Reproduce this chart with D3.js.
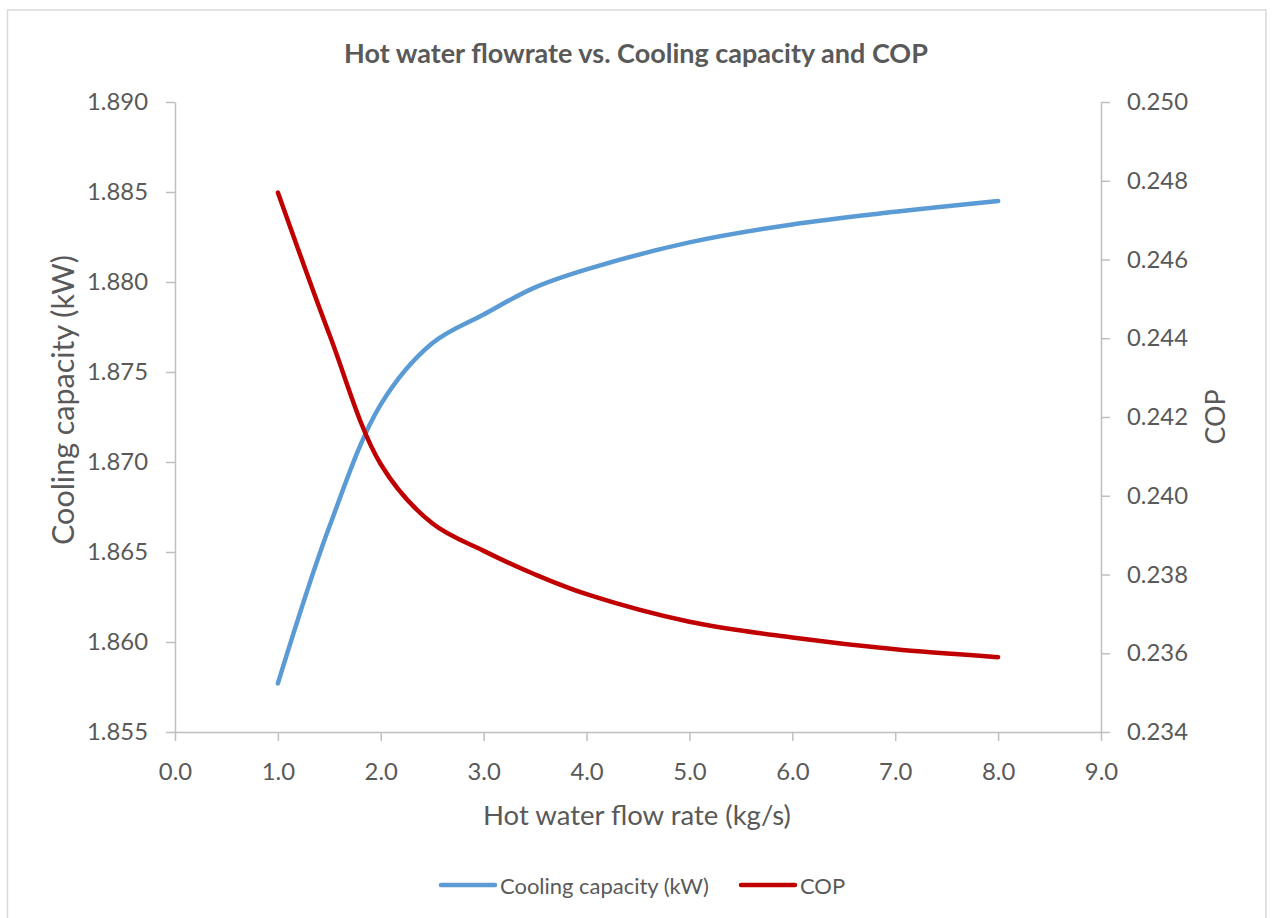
<!DOCTYPE html>
<html>
<head>
<meta charset="utf-8">
<script src="https://cdn.jsdelivr.net/npm/d3@7"></script>
<style>
  html, body { margin: 0; padding: 0; background: #fff; }
  svg { display: block; }
  text { font-family: Lato, "Open Sans", sans-serif; fill: #595959; }
</style>
</head>
<body>
<svg id="chart" width="1272" height="918"></svg>
<script>
// ---- data ----
const flowRate = [1, 1.5, 2, 2.5, 3, 3.5, 4, 5, 6, 7, 8];
const coolingCapacity = [1.8577, 1.8664, 1.8732, 1.8766, 1.8782, 1.8797, 1.8807, 1.8822, 1.8832, 1.8839, 1.8845];
const cop = [0.2477, 0.2441, 0.2408, 0.2393, 0.2386, 0.2380, 0.2375, 0.2368, 0.2364, 0.2361, 0.2359];
const xTicks = [0, 1, 2, 3, 4, 5, 6, 7, 8, 9];
const yLeftTicks = [1.855, 1.860, 1.865, 1.870, 1.875, 1.880, 1.885, 1.890];
const yRightTicks = [0.234, 0.236, 0.238, 0.240, 0.242, 0.244, 0.246, 0.248, 0.250];
const seriesNames = ["Cooling capacity (kW)", "COP"];
const titleText = "Hot water flowrate vs. Cooling capacity and COP";
const xTitle = "Hot water flow rate (kg/s)";
const yLeftTitle = "Cooling capacity (kW)";
const yRightTitle = "COP";

// ---- layout ----
const svg = d3.select("#chart");
const L = 175, R = 1101, T = 102, B = 732;
const axisColor = "#BFBFBF";
const blue = "#5B9BD5", red = "#C00000";

function fit(sel, target, base = 20) {
  sel.style("font-size", base + "px");
  const w = sel.node().getComputedTextLength();
  const fs = base * target / w;
  sel.style("font-size", fs + "px");
  return fs;
}

// border
svg.append("rect").attr("x", 7.5).attr("y", 10).attr("width", 1258.5).attr("height", 920)
  .attr("fill", "none").attr("stroke", "#D9D9D9").attr("stroke-width", 1.5);

const x = d3.scaleLinear().domain([0, 9]).range([L, R]);
const yL = d3.scaleLinear().domain([1.855, 1.890]).range([B, T]);
const yR = d3.scaleLinear().domain([0.234, 0.250]).range([B, T]);

// measure tick font size
const probe = svg.append("text").text("1.890");
const tickFs = fit(probe, 61);
probe.remove();

function styleAxis(g) {
  g.selectAll("path.domain").attr("stroke", axisColor).attr("stroke-width", 1.5);
  g.selectAll(".tick line").attr("stroke", axisColor).attr("stroke-width", 1.5);
  g.selectAll(".tick text").attr("fill", "#595959")
    .style("font-family", "Lato, 'Open Sans', sans-serif").style("font-size", tickFs + "px");
}

const gx = svg.append("g").attr("transform", `translate(0,${B})`)
  .call(d3.axisBottom(x).tickValues(xTicks).tickFormat(d3.format(".1f")).tickSize(9).tickSizeOuter(0).tickPadding(22));
styleAxis(gx);

const gl = svg.append("g").attr("transform", `translate(${L},0)`)
  .call(d3.axisLeft(yL).tickValues(yLeftTicks).tickFormat(d3.format(".3f")).tickSize(9).tickSizeOuter(0).tickPadding(18));
styleAxis(gl);

const gr = svg.append("g").attr("transform", `translate(${R},0)`)
  .call(d3.axisRight(yR).tickValues(yRightTicks).tickFormat(d3.format(".3f")).tickSize(9).tickSizeOuter(0).tickPadding(17));
styleAxis(gr);

// lines
const lineL = d3.line().x((d, i) => x(flowRate[i])).y(d => yL(d)).curve(d3.curveCatmullRom.alpha(0.5));
const lineR = d3.line().x((d, i) => x(flowRate[i])).y(d => yR(d)).curve(d3.curveCatmullRom.alpha(0.5));

svg.append("path").datum(coolingCapacity).attr("d", lineL)
  .attr("fill", "none").attr("stroke", blue).attr("stroke-width", 4.5).attr("stroke-linecap", "round").attr("stroke-linejoin", "round");
svg.append("path").datum(cop).attr("d", lineR)
  .attr("fill", "none").attr("stroke", red).attr("stroke-width", 4.5).attr("stroke-linecap", "round").attr("stroke-linejoin", "round");

// title
const t = svg.append("text").attr("x", 636).attr("y", 52).attr("text-anchor", "middle")
  .attr("dominant-baseline", "central").style("font-weight", "bold").text(titleText);
fit(t, 584);

// axis titles
const xt = svg.append("text").attr("x", 637).attr("y", 814).attr("text-anchor", "middle")
  .attr("dominant-baseline", "central").text(xTitle);
fit(xt, 308);

const ylt = svg.append("text").attr("transform", "translate(62,400) rotate(-90)").attr("text-anchor", "middle")
  .attr("dominant-baseline", "central").text(yLeftTitle);
const yFs = fit(ylt, 290);

const yrt = svg.append("text").attr("transform", "translate(1215,417) rotate(-90)").attr("text-anchor", "middle")
  .attr("dominant-baseline", "central").text(yRightTitle);
yrt.style("font-size", (yFs * 0.88) + "px");

// legend
const legendY = 885;
const legendItems = [
  { name: seriesNames[0], color: blue, x0: 441 },
  { name: seriesNames[1], color: red, x0: 741 }
];
const lg = svg.append("g");
const legSel = lg.selectAll("g").data(legendItems).join("g");
legSel.append("line").attr("x1", d => d.x0).attr("x2", d => d.x0 + 54)
  .attr("y1", legendY).attr("y2", legendY).attr("stroke", d => d.color)
  .attr("stroke-width", 4.5).attr("stroke-linecap", "round");
const legTexts = legSel.append("text").attr("x", d => d.x0 + 59).attr("y", legendY)
  .attr("dominant-baseline", "central").text(d => d.name);
const legFs = fit(d3.select(legTexts.nodes()[0]), 209);
legTexts.style("font-size", legFs + "px");
</script>
</body>
</html>
